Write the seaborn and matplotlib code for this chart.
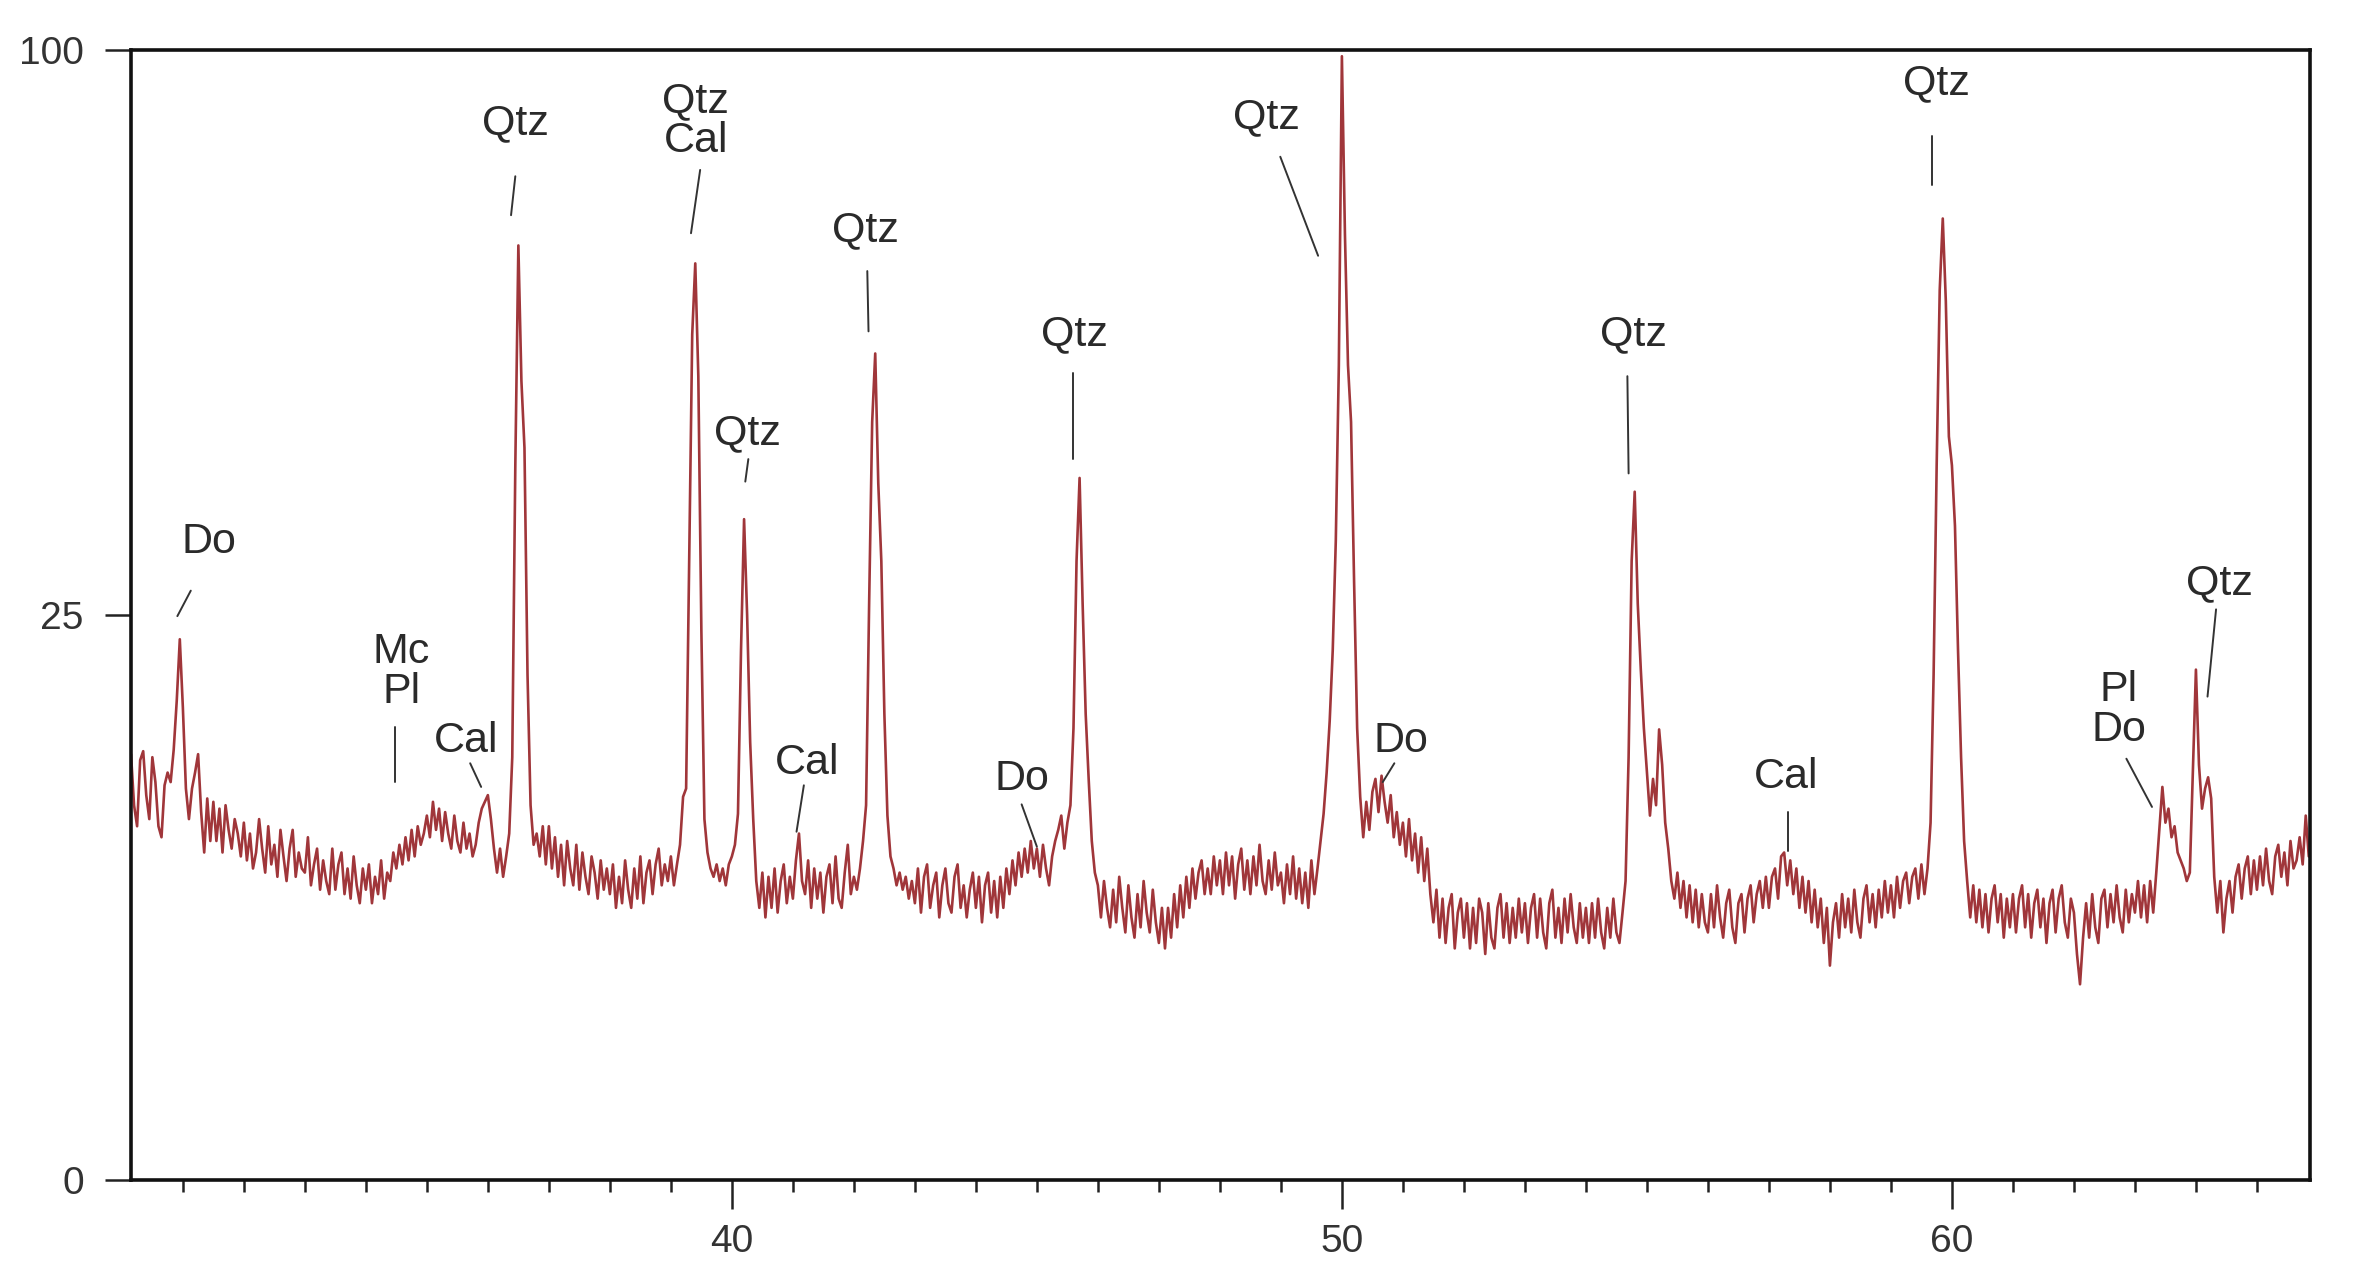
import numpy as np
import matplotlib
matplotlib.use("Agg")
import matplotlib.pyplot as plt
from matplotlib.ticker import FixedLocator, MultipleLocator, NullLocator
import seaborn as sns

# scan grid (2theta, deg) and intensities, one row per degree
scan_start = 30.0
scan_step = 0.05
counts = [
    12.0, 13.4, 10.6, 14.2, 11.0, 9.8, 13.8, 14.4, 11.6, 10.2, 14.0, 12.4, 9.8, 9.2, 12.2, 13.0, 12.4, 14.5, 18.0, 22.9,  # 30
    17.5, 12.0, 10.2, 12.0, 13.0, 14.2, 10.6, 8.4, 11.4, 9.0, 11.2, 9.0, 10.8, 8.4, 11.0, 9.6, 8.6, 10.2, 9.4, 8.2,  # 31
    10.0, 8.0, 9.4, 7.6, 8.4, 10.2, 8.6, 7.4, 9.8, 7.8, 8.8, 7.2, 9.6, 8.2, 7.0, 8.6, 9.6, 7.2, 8.4, 7.6,  # 32
    7.4, 9.2, 6.8, 7.8, 8.6, 6.6, 8.0, 7.0, 6.4, 8.6, 6.6, 7.8, 8.4, 6.4, 7.6, 6.2, 8.2, 6.8, 6.0, 7.6,  # 33
    6.6, 7.8, 6.0, 7.2, 6.4, 8.0, 6.2, 7.4, 7.0, 8.4, 7.6, 8.8, 7.8, 9.2, 8.0, 9.6, 8.2, 9.8, 8.8, 9.4,  # 34
    10.4, 9.2, 11.2, 9.6, 10.8, 9.0, 10.6, 9.4, 8.6, 10.4, 9.0, 8.4, 10.0, 8.6, 9.4, 8.2, 8.8, 10.0, 10.8, 11.2,  # 35
    11.6, 10.2, 8.6, 7.4, 8.6, 7.2, 8.2, 9.4, 14.0, 40.0, 68.4, 50.0, 42.0, 20.0, 11.0, 8.8, 9.4, 8.2, 9.8, 7.8,  # 36
    9.8, 7.6, 9.2, 7.2, 8.8, 6.8, 9.0, 7.6, 6.8, 8.8, 6.6, 8.4, 7.2, 6.4, 8.2, 7.4, 6.2, 8.0, 6.6, 7.6,  # 37
    6.4, 7.8, 5.8, 7.2, 6.0, 8.0, 6.6, 5.8, 7.6, 6.2, 8.2, 6.0, 7.4, 8.0, 6.4, 7.8, 8.6, 6.8, 7.8, 7.0,  # 38
    8.2, 6.8, 7.8, 8.8, 11.5, 12.0, 30.0, 56.0, 65.8, 50.6, 23.6, 10.2, 8.4, 7.6, 7.2, 7.8, 7.0, 7.6, 6.8, 7.8,  # 39
    8.2, 8.8, 10.5, 22.0, 34.2, 25.0, 15.0, 10.2, 7.0, 5.8, 7.4, 5.4, 7.2, 5.8, 7.6, 5.6, 7.0, 7.8, 6.0, 7.2,  # 40
    6.2, 8.0, 9.4, 7.0, 6.4, 8.0, 5.8, 7.6, 6.2, 7.4, 5.6, 7.2, 7.8, 6.0, 8.2, 6.2, 5.8, 7.4, 8.8, 6.4,  # 41
    7.2, 6.6, 7.6, 9.0, 11.0, 26.0, 45.0, 53.5, 38.0, 30.0, 17.0, 10.4, 8.2, 7.6, 6.8, 7.4, 6.6, 7.2, 6.2, 7.0,  # 42
    6.0, 7.6, 5.6, 7.2, 7.8, 5.8, 6.8, 7.4, 5.4, 6.8, 7.6, 6.0, 5.6, 7.2, 7.8, 5.8, 6.8, 5.4, 6.6, 7.4,  # 43
    5.8, 7.2, 5.2, 6.8, 7.4, 5.6, 7.0, 5.4, 7.2, 5.8, 7.6, 6.4, 8.0, 6.8, 8.4, 7.2, 8.6, 7.4, 9.0, 7.6,  # 44
    8.6, 7.2, 8.8, 7.6, 6.8, 8.2, 9.0, 9.6, 10.4, 8.6, 10.0, 11.0, 16.0, 30.0, 38.6, 26.0, 17.0, 12.5, 9.0, 7.4,  # 45
    6.8, 5.4, 7.0, 5.8, 5.0, 6.6, 5.2, 7.2, 5.8, 4.8, 6.8, 5.4, 4.6, 6.4, 5.0, 7.0, 5.6, 4.8, 6.6, 5.2,  # 46
    4.4, 5.8, 4.2, 5.8, 4.6, 6.4, 5.0, 6.8, 5.4, 7.2, 5.8, 7.6, 6.2, 7.4, 8.0, 6.4, 7.6, 6.4, 8.2, 6.8,  # 47
    8.0, 6.4, 8.4, 6.8, 8.2, 6.2, 7.8, 8.6, 6.6, 8.0, 6.4, 8.2, 6.8, 8.8, 7.0, 6.4, 8.0, 6.6, 8.4, 6.8,  # 48
    7.4, 6.0, 7.8, 6.4, 8.2, 6.2, 7.6, 6.0, 7.4, 5.8, 8.0, 6.4, 7.6, 9.0, 10.5, 13.0, 16.5, 22.0, 32.0, 52.0,  # 49
    98.9, 70.0, 52.0, 45.0, 28.0, 16.0, 11.5, 9.2, 11.2, 9.6, 11.8, 12.6, 10.6, 12.8, 11.2, 10.0, 11.6, 9.2, 10.6, 8.8,  # 50
    10.0, 8.2, 10.2, 8.0, 9.4, 7.4, 9.2, 7.0, 8.6, 6.4, 5.2, 6.6, 4.6, 6.2, 4.4, 5.8, 6.4, 4.2, 5.6, 6.2,  # 51
    4.6, 6.0, 4.2, 5.8, 4.4, 6.2, 5.6, 4.0, 6.0, 4.6, 4.2, 5.8, 6.4, 4.6, 6.0, 4.4, 5.8, 4.6, 6.2, 4.8,  # 52
    6.0, 4.4, 5.8, 6.4, 4.6, 6.2, 4.8, 4.2, 6.0, 6.6, 4.6, 5.8, 4.4, 6.2, 4.8, 6.4, 5.0, 4.4, 6.0, 4.6,  # 53
    5.8, 4.4, 6.0, 4.6, 6.2, 4.8, 4.2, 5.8, 4.6, 6.2, 4.8, 4.4, 5.6, 7.0, 14.0, 30.0, 37.1, 26.0, 20.4, 16.0,  # 54
    13.0, 10.4, 12.6, 11.0, 15.9, 13.5, 10.0, 8.6, 7.0, 6.2, 7.4, 5.8, 7.0, 5.4, 6.8, 5.2, 6.6, 5.0, 6.4, 5.2,  # 55
    4.8, 6.4, 5.0, 6.8, 5.4, 4.6, 6.0, 6.6, 5.0, 4.4, 6.0, 6.4, 4.8, 6.2, 6.8, 5.2, 6.4, 7.0, 5.8, 7.2,  # 56
    5.8, 7.2, 7.6, 6.2, 8.2, 8.4, 6.8, 8.0, 6.4, 7.6, 5.8, 7.2, 5.6, 7.0, 5.2, 6.6, 5.0, 6.2, 4.4, 5.8,  # 57
    3.6, 5.2, 6.0, 4.6, 6.4, 5.0, 6.2, 4.8, 6.6, 5.2, 4.6, 6.2, 6.8, 5.2, 6.4, 5.0, 6.6, 5.4, 7.0, 5.6,  # 58
    6.8, 5.4, 7.2, 5.8, 7.0, 7.4, 6.0, 7.2, 7.6, 6.2, 7.8, 6.4, 7.6, 10.0, 20.0, 40.0, 62.0, 72.4, 60.5, 43.3,  # 59
    40.0, 33.5, 22.0, 14.0, 9.0, 7.0, 5.4, 6.8, 5.2, 6.6, 5.0, 6.4, 4.8, 6.2, 6.8, 5.2, 6.4, 4.6, 6.2, 5.0,  # 60
    6.4, 4.8, 6.2, 6.8, 5.0, 6.4, 4.6, 6.0, 6.6, 5.0, 6.2, 4.4, 6.0, 6.6, 4.8, 6.2, 6.8, 5.2, 4.6, 6.2,  # 61
    5.6, 4.0, 3.0, 4.6, 6.0, 4.6, 6.4, 5.0, 4.4, 6.2, 6.6, 5.0, 6.4, 5.2, 6.8, 5.4, 4.8, 6.6, 5.2, 6.4,  # 62
    5.6, 7.0, 5.4, 6.8, 5.2, 7.0, 5.6, 7.4, 9.6, 12.1, 10.0, 10.8, 9.2, 9.8, 8.4, 8.0, 7.6, 7.0, 7.4, 13.0,  # 63
    20.4, 13.5, 10.8, 12.0, 12.7, 11.4, 7.2, 5.6, 7.0, 4.8, 6.2, 7.0, 5.6, 7.2, 7.8, 6.2, 7.6, 8.2, 6.4, 8.0,  # 64
    6.6, 8.2, 6.8, 8.6, 7.0, 6.4, 8.2, 8.8, 7.2, 8.4, 6.8, 9.0, 7.6, 8.0, 9.2, 7.8, 10.4, 8.2, 9.4, 8.0,  # 65
]
two_theta = scan_start + scan_step * np.arange(len(counts))

# phase labels
labels = ["Do", "Mc\nPl", "Cal", "Qtz", "Qtz\nCal", "Qtz", "Cal", "Qtz", "Do",
          "Qtz", "Qtz", "Do", "Qtz", "Cal", "Qtz", "Pl\nDo", "Qtz"]
label_x = [31.43, 34.58, 35.64, 36.45, 39.41, 40.25, 41.23, 42.19, 44.75,
           45.62, 48.77, 50.96, 54.78, 57.29, 59.75, 62.73, 64.38]
label_y = [31.9, 20.2, 15.1, 87.4, 87.8, 43.7, 13.6, 70.6, 12.6,
           56.0, 88.4, 15.1, 56.0, 12.7, 94.2, 17.3, 27.9]
# leader lines: label end -> peak end
lead_x0 = [31.13, 34.48, 35.71, 36.45, 39.48, 40.27, 41.18, 42.22, 44.75,
           45.59, 48.99, 50.86, 54.68, 57.32, 59.68, 62.86, 64.33]
lead_y0 = [27.2, 16.1, 13.6, 78.9, 79.9, 40.7, 12.2, 64.7, 11.05,
           51.0, 82.0, 13.6, 50.6, 10.6, 85.4, 13.9, 25.5]
lead_x1 = [30.91, 34.48, 35.89, 36.38, 39.33, 40.22, 41.06, 42.24, 45.0,
           45.59, 49.61, 50.67, 54.70, 57.32, 59.68, 63.28, 64.19]
lead_y1 = [24.9, 12.4, 12.1, 72.9, 70.2, 38.2, 9.5, 56.4, 8.7,
           40.7, 66.9, 12.4, 39.1, 8.5, 77.5, 10.9, 18.3]

sns.set_style("ticks")
plt.rcParams["font.family"] = ["Liberation Sans", "DejaVu Sans"]

fig = plt.figure(figsize=(23.57, 12.88), dpi=100)
ax = fig.add_axes([131 / 2357, 108 / 1288, 2179 / 2357, 1130 / 1288])

sns.lineplot(x=two_theta, y=counts, ax=ax, color="#a0363a", linewidth=1.9, errorbar=None)

# square-root intensity axis
ax.set_yscale("function", functions=(lambda v: np.sqrt(np.clip(v, 0, None)), np.square))
ax.set_ylim(0, 100)
ax.set_xlim(30.15, 65.87)
ax.yaxis.set_major_locator(FixedLocator([0, 25, 100]))
ax.yaxis.set_minor_locator(NullLocator())
ax.xaxis.set_major_locator(FixedLocator([40, 50, 60]))
ax.xaxis.set_minor_locator(MultipleLocator(1))
ax.set_xlabel("")
ax.set_ylabel("")

ax.tick_params(axis="both", which="major", labelsize=28, width=1.8, color="#222222", labelcolor="#333333")
ax.tick_params(axis="x", which="major", length=21, pad=11)
ax.tick_params(axis="x", which="minor", length=8.5, width=1.8, color="#222222")
ax.tick_params(axis="y", which="major", length=19, pad=15)
for s in ax.spines.values():
    s.set_linewidth(2.6)
    s.set_color("#111111")

for txt, tx, ty in zip(labels, label_x, label_y):
    ax.text(tx, ty, txt, fontsize=31, color="#2a2a2a", ha="center", va="center", linespacing=1.0)
for x0, y0, x1, y1 in zip(lead_x0, lead_y0, lead_x1, lead_y1):
    ax.plot([x0, x1], [y0, y1], color="#333333", linewidth=1.4)

fig.savefig("out.png", dpi=100)
